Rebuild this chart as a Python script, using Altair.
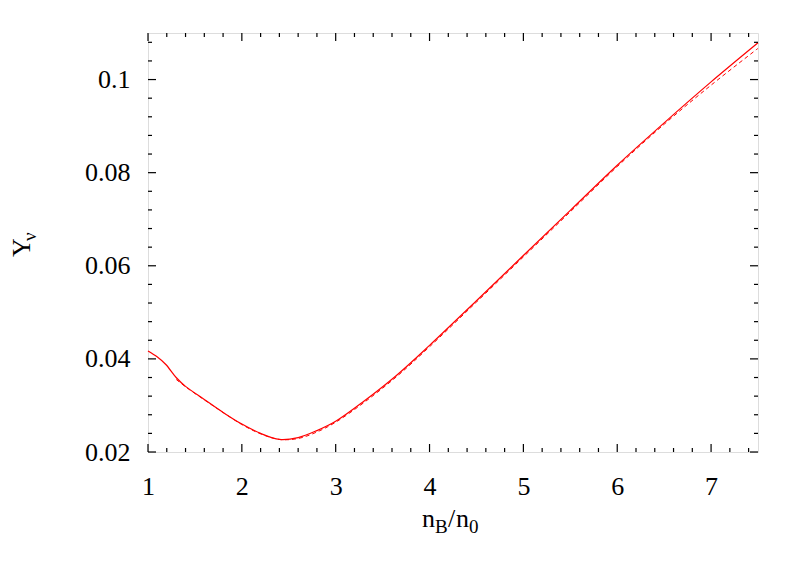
import altair as alt
import pandas as pd

# ---- data ----
solid_x = [1.0, 1.1, 1.19, 1.3, 1.4, 1.6, 1.8, 2.0, 2.2, 2.4, 2.6, 2.8, 3.0, 3.3, 3.65,
           4.0, 4.5, 5.0, 5.5, 6.0, 6.5, 7.0, 7.5]
solid_y = [0.0417, 0.0404, 0.0388, 0.0360, 0.0341, 0.0313, 0.0285, 0.0260, 0.0240, 0.0227,
           0.0231, 0.0246, 0.0266, 0.0309, 0.0365, 0.0429, 0.0525, 0.0622, 0.0719, 0.0816,
           0.0907, 0.0995, 0.1079]

dashed_x = [1.3, 1.4, 1.6, 1.8, 2.0, 2.2, 2.4, 2.6, 2.8, 3.0, 3.3, 3.65, 4.0, 4.5, 5.0,
            5.5, 6.0, 6.5, 7.0, 7.5]
dashed_y = [0.0356, 0.0340, 0.0312, 0.0285, 0.0259, 0.0239, 0.0227, 0.0229, 0.0243, 0.0264,
            0.0306, 0.0362, 0.0426, 0.0522, 0.0619, 0.0716, 0.0813, 0.0904, 0.0988, 0.1067]

x_major = [1, 2, 3, 4, 5, 6, 7]
x_minor = [round(1 + 0.2 * i, 2) for i in range(0, 33) if i % 5 != 0]
y_major = [0.02, 0.04, 0.06, 0.08, 0.1]
y_minor = [round(0.02 + 0.004 * i, 4) for i in range(0, 23) if i % 5 != 0]

X_DOMAIN = [1, 7.5]
Y_DOMAIN = [0.02, 0.11]

W, H = 610, 419
FONT = "Liberation Serif"
FS = 26
FS_SUB = 19

solid = pd.DataFrame({"x": solid_x, "y": solid_y})
dashed = pd.DataFrame({"x": dashed_x, "y": dashed_y})

xs = alt.Scale(domain=X_DOMAIN, nice=False, zero=False)
ys = alt.Scale(domain=Y_DOMAIN, nice=False, zero=False)

x_axis = alt.Axis(values=x_major, ticks=False, tickSize=0, domain=False, grid=False,
                  labelFont=FONT, labelFontSize=FS, labelColor="black", labelPadding=21,
                  labelFlush=False, format="d", title=None)
y_axis = alt.Axis(values=y_major, ticks=False, tickSize=0, domain=False, grid=False,
                  labelFont=FONT, labelFontSize=FS, labelColor="black", labelPadding=18,
                  format="~g", title=None)

X = lambda: alt.X("x:Q", scale=xs, axis=x_axis)
Y = lambda: alt.Y("y:Q", scale=ys, axis=y_axis)

line_solid = alt.Chart(solid).mark_line(color="#ff0000", strokeWidth=1.2,
                                        interpolate="catmull-rom").encode(x=X(), y=Y())
line_dashed = alt.Chart(dashed).mark_line(color="#ff0000", strokeWidth=1.0, strokeDash=[4, 3],
                                          interpolate="catmull-rom").encode(x=X(), y=Y())

TW = 1.2

def xticks(vals, length):
    df = pd.DataFrame({"x": vals})
    bottom = alt.Chart(df).mark_rule(color="black", strokeWidth=TW).encode(
        x=X(), y=alt.value(H), y2=alt.value(H - length))
    top = alt.Chart(df).mark_rule(color="black", strokeWidth=TW).encode(
        x=X(), y=alt.value(0), y2=alt.value(length))
    return [bottom, top]

def yticks(vals, length):
    df = pd.DataFrame({"y": vals})
    left = alt.Chart(df).mark_rule(color="black", strokeWidth=TW).encode(
        y=Y(), x=alt.value(0), x2=alt.value(length))
    right = alt.Chart(df).mark_rule(color="black", strokeWidth=TW).encode(
        y=Y(), x=alt.value(W), x2=alt.value(W - length))
    return [left, right]

one = pd.DataFrame({"k": [0]})

def label(txt, x, y, size, angle=0, align="left", baseline="alphabetic"):
    return alt.Chart(one).mark_text(font=FONT, fontSize=size, color="black", align=align,
                                    baseline=baseline, angle=angle).encode(
        x=alt.value(x), y=alt.value(y), text=alt.value(txt))

x_title = [
    label("n", 274, 494, FS),
    label("B", 287, 500, FS_SUB),
    label("/", 300, 494, FS),
    label("n", 308, 494, FS),
    label("0", 321, 500, FS_SUB),
]
y_title = [
    label("Y", -118, 224, FS, angle=270),
    label("ν", -112, 208, FS_SUB, angle=270),
]

layers = [line_solid, line_dashed] + xticks(x_major, 8) + xticks(x_minor, 4) \
    + yticks(y_major, 8) + yticks(y_minor, 4) + x_title + y_title

chart = alt.layer(*layers).properties(
    width=W, height=H,
    autosize=alt.AutoSizeParams(type="none"),
    padding={"left": 140, "top": 25, "right": 41, "bottom": 100},
).configure_view(stroke="black", strokeWidth=1.2).configure(background="white")

chart.save("out.html", embed_options={"renderer": "svg", "actions": False})
